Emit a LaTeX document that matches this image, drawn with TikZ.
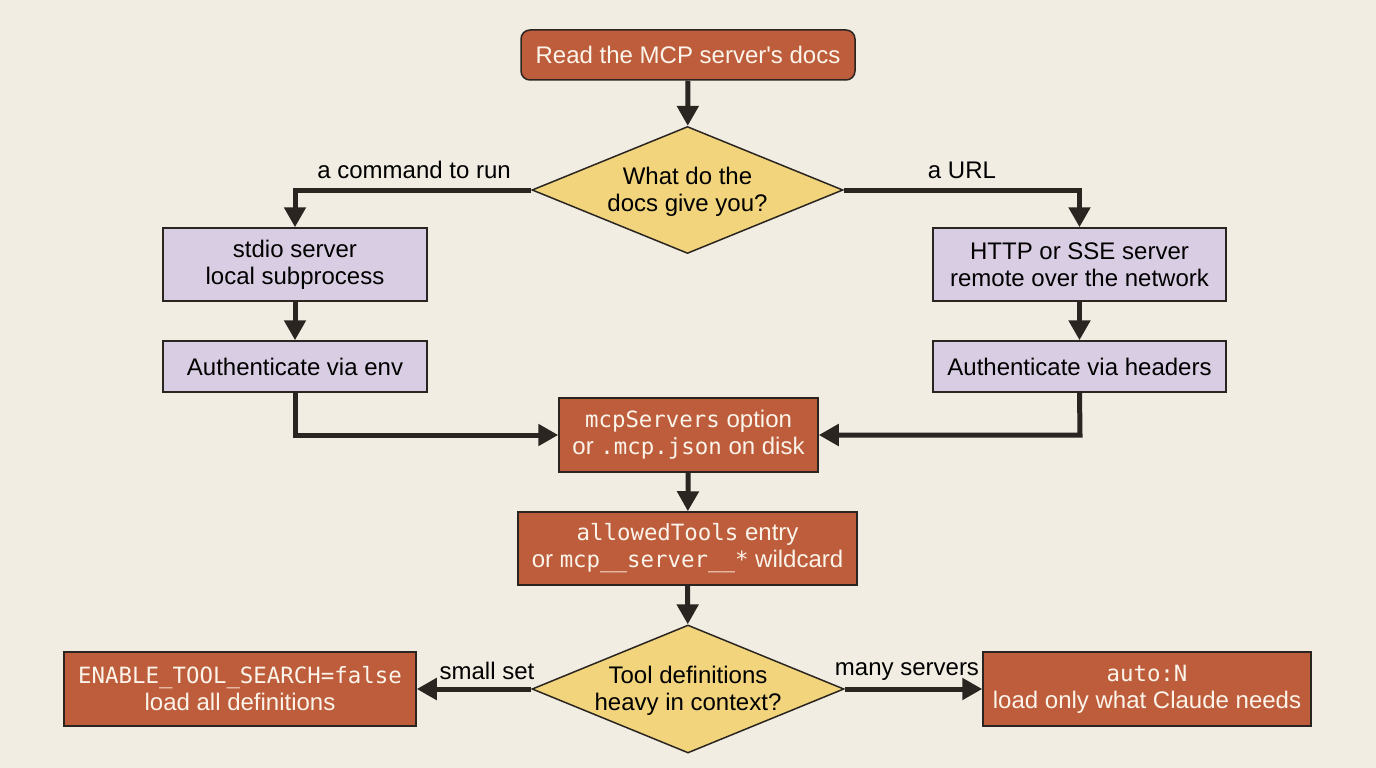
\documentclass[tikz,border=0pt]{standalone}
\usepackage{fontspec}
\setmainfont{Liberation Sans}
\newfontfamily\codefont{DejaVu Sans Mono}[Scale=1]
\usetikzlibrary{shapes.geometric,arrows.meta}
\definecolor{bgc}{HTML}{F1EDE2}
\definecolor{rust}{HTML}{BE5D3B}
\definecolor{lav}{HTML}{D9CDE3}
\definecolor{sand}{HTML}{F1D47C}
\definecolor{ink}{HTML}{2A2521}
\definecolor{cream}{HTML}{FBF4EA}
\newcommand{\cd}[1]{{\codefont\fontsize{22.4}{27}\selectfont #1}}
\tikzset{
  x=1pt, y=-1pt,
  base/.style={draw=ink, line width=1.5pt, inner sep=0pt, align=center,
    font=\fontsize{24}{27}\selectfont},
  rustbox/.style={base, rectangle, fill=rust, text=cream},
  lavbox/.style={base, rectangle, fill=lav, text=black},
  dia/.style={draw=ink, line width=1.5pt, diamond, fill=sand, inner sep=0pt},
  dtext/.style={align=center, text=black, inner sep=0pt, font=\fontsize{24}{27}\selectfont},
  conn/.style={draw=ink, line width=5pt, -{Triangle[length=20pt,width=21pt]}},
  lbl/.style={text=black, inner sep=0pt, font=\fontsize{24}{27}\selectfont}
}
\begin{document}
\begin{tikzpicture}
\fill[bgc] (0,0) rectangle (1376,768);
\useasboundingbox (0,0) rectangle (1376,768);

\node[rustbox, rounded corners=9pt, minimum width=334pt, minimum height=50pt] (top) at (688,55) {Read the MCP server\textquotesingle s docs};
\node[dia, minimum width=311pt, minimum height=127pt] (d1) at (687.5,190) {};
\node[dtext] (d1t) at (687.5,192) {What do the\\docs give you?};

\node[lavbox, minimum width=264pt, minimum height=73pt] (l1) at (295,264.5) {stdio server\\local subprocess};
\node[lavbox, minimum width=264pt, minimum height=51pt] (l2) at (295,366.5) {Authenticate via env};
\node[lavbox, minimum width=293pt, minimum height=73pt] (r1) at (1079.5,264.5) {HTTP or SSE server\\remote over the network};
\node[lavbox, minimum width=293pt, minimum height=51pt] (r2) at (1079.5,366.5) {Authenticate via headers};

\node[rustbox, minimum width=259pt, minimum height=74pt] (mcp) at (688.5,435) {\cd{mcpServers} option\\or \cd{.mcp.json} on disk};
\node[rustbox, minimum width=339pt, minimum height=73pt] (allow) at (687.5,548.5) {\cd{allowedTools} entry\\or \cd{mcp\_\_server\_\_*} wildcard};

\node[dia, minimum width=312pt, minimum height=128pt] (d2) at (688,689) {};
\node[dtext] (d2t) at (688,691) {Tool definitions\\heavy in context?};

\node[rustbox, minimum width=352pt, minimum height=74pt] (bl) at (240,689) {\cd{ENABLE\_TOOL\_SEARCH=false}\\load all definitions};
\node[rustbox, minimum width=328pt, minimum height=74pt] (br) at (1147,689) {\cd{auto:N}\\load only what Claude needs};

\coordinate (jl) at (295,435);
\coordinate (jr) at (1080,435);

\draw[conn] (top) -- (d1);
\draw[conn] (d1.west) -| (l1.north);
\draw[conn] (d1.east) -| (r1.north);
\draw[conn] (l1) -- (l2);
\draw[conn] (r1) -- (r2);
\draw[conn] (l2.south) -- (jl) -- (mcp.west);
\draw[conn] (r2.south) -- (jr) -- (mcp.east);
\draw[conn] (mcp) -- (allow);
\draw[conn] (allow) -- (d2);
\draw[conn] (d2.west) -- (bl.east);
\draw[conn] (d2.east) -- (br.west);

\node[lbl, anchor=east] (lab1) at (511,170) {a command to run};
\node[lbl] (lab2) at (962,170) {a URL};
\node[lbl] (lab3) at (487,671) {small set};
\node[lbl] (lab4) at (907,672) {many servers};
\end{tikzpicture}
\end{document}
